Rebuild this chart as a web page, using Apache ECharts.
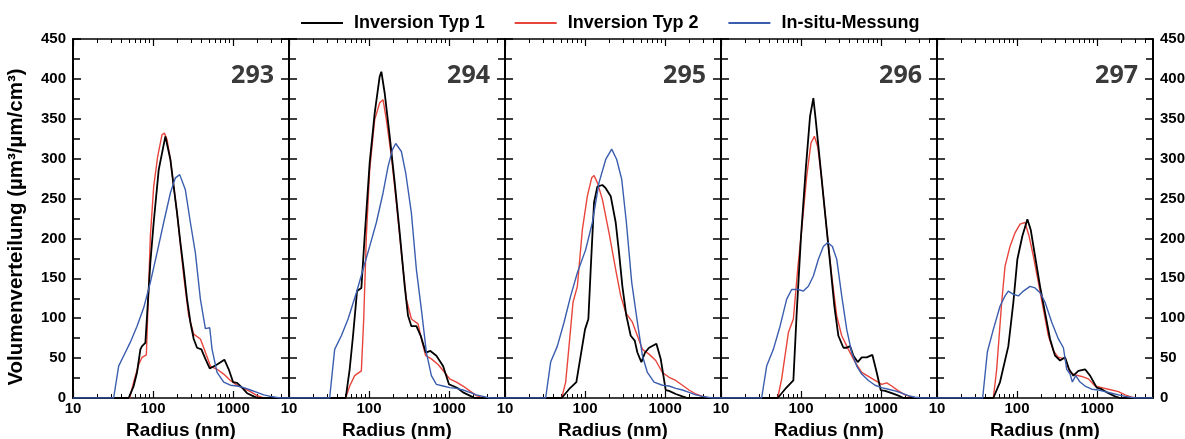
<!DOCTYPE html>
<html><head><meta charset="utf-8">
<script src="https://cdn.jsdelivr.net/npm/echarts@6/dist/echarts.min.js"></script>
<style>html,body{margin:0;padding:0;background:#fff}#c{width:1185px;height:439px}</style>
</head><body><div id="c"></div><script>
const panelNames = ['293', '294', '295', '296', '297'];
const seriesNames = ['Inversion Typ 1', 'Inversion Typ 2', 'In-situ-Messung'];
const xMajorTicks = [10, 100, 1000];
const xMinorTicks = [20, 30, 40, 50, 60, 70, 80, 90, 200, 300, 400, 500, 600, 700, 800, 900, 2000, 3000, 4000];

const typ1_293 = [[10,0],[49.6,0],[57.3,15],[63.1,32],[69.5,61],[72.9,65],[80.2,69],[92.6,170],[101.9,220],[117.7,286],[142.6,328],[164.7,299],[181.3,265],[199.5,232],[219.6,195],[241.7,161],[266.1,124],[292.9,95],[322.4,74],[354.8,63],[401.9,61],[451,49],[510.9,37],[631,42],[779.1,48],[882.6,36],[1000,20],[1122,19],[1296,13],[1496,6],[1813,2],[2034,0],[5000,0]];
const typ2_293 = [[10,0],[51.1,0],[57.3,20],[66.2,42],[72.9,51],[82.5,54],[92.6,203],[101.9,265],[114.4,303],[129.6,330],[138.6,332],[149.6,324],[164.7,299],[199.5,232],[241.7,153],[279.2,103],[322.4,80],[390.6,74],[429.9,63],[521,40],[631,36],[764.2,30],[926.2,22],[1122,16],[1359,12],[1647,8],[1995,3],[2418,0],[5000,0]];
const insitu_293 = [[10,0],[32.2,0],[37.2,40],[43,53],[52.1,70],[63.1,90],[76.4,113],[92.6,145],[112.2,182],[135.9,220],[164.7,257],[190.2,276],[215.4,280],[253.6,261],[292.9,220],[338.2,182],[390.6,124],[451,87],[510.9,88],[546.5,61],[631,32],[764.2,20],[926.2,16],[1122,15],[1359,13],[1647,10],[1995,7],[2418,4],[2929,2],[3905,0],[5000,0]];

const typ1_294 = [[10,0],[51.1,0],[57.3,36],[63.1,78],[70.8,134],[80.2,138],[88.3,203],[101.9,295],[117.7,357],[135.9,403],[142.6,409],[157,382],[181.3,328],[209.4,270],[241.7,207],[279.2,140],[307.3,103],[338.2,90],[390.6,90],[442.5,78],[510.9,57],[584.3,59],[694.6,53],[841.4,40],[1000,17],[1122,15],[1296,12],[1496,7],[1813,3],[2094,0],[5000,0]];
const typ2_294 = [[10,0],[51.1,0],[57.3,15],[66.2,28],[80.2,34],[85.8,99],[92.6,203],[101.9,286],[117.7,349],[135.9,370],[149.6,374],[164.7,349],[190.2,303],[219.6,245],[253.6,182],[292.9,124],[338.2,99],[409.7,93],[451,74],[510.9,53],[601.4,49],[728.6,42],[882.6,32],[1019,24],[1235,20],[1496,15],[1813,9],[2196,3],[2661,0],[5000,0]];
const insitu_294 = [[10,0],[32.2,0],[37.2,61],[45.1,78],[54.7,99],[69.5,132],[84.1,161],[101.9,190],[123.5,220],[149.6,257],[172.8,290],[195.7,311],[215.4,319],[253.6,309],[287.4,282],[338.2,232],[390.6,161],[451,111],[521,57],[601.4,28],[694.6,17],[841.4,15],[1019,13],[1235,12],[1496,10],[1813,7],[2196,4],[2661,2],[3224,0],[5000,0]];

const typ1_295 = [[10,0],[51.1,0],[63.1,11],[77.9,20],[88.3,53],[100,86],[110.1,99],[117.7,161],[129.6,245],[142.6,265],[164.7,267],[181.3,263],[209.4,253],[241.7,220],[266.1,182],[292.9,140],[328.6,103],[372.3,78],[417.7,72],[451,57],[505.9,45],[562.3,57],[631,63],[779.1,68],[882.6,49],[1019,10],[1122,9],[1359,5],[1647,2],[1902,0],[5000,0]];
const typ2_295 = [[10,0],[51.1,0],[57.3,20],[63.1,65],[70.8,120],[80.2,140],[92.6,211],[106.9,253],[121.2,276],[129.6,279],[142.6,270],[164.7,249],[199.5,207],[241.7,161],[279.2,128],[322.4,107],[390.6,95],[451,78],[521,61],[631,55],[764.2,47],[926.2,32],[1122,26],[1359,22],[1647,16],[1995,10],[2418,5],[2929,2],[3548,0],[5000,0]];
const insitu_295 = [[10,0],[32.2,0],[37.2,45],[45.1,65],[54.7,95],[66.2,128],[80.2,157],[101.9,186],[123.5,220],[149.6,270],[181.3,299],[215.4,312],[248.8,299],[287.4,274],[328.6,220],[383.1,145],[451,95],[521,53],[601.4,32],[728.6,20],[926.2,16],[1122,15],[1359,12],[1647,10],[1995,7],[2418,4],[2929,2],[3905,0],[5000,0]];

const typ1_296 = [[10,0],[51.1,0],[63.1,11],[80.2,22],[88.3,107],[100,203],[114.4,286],[129.6,353],[142.6,376],[152.5,349],[172.8,295],[199.5,232],[230.4,170],[261,115],[292.9,78],[338.2,63],[372.3,63],[409.7,65],[451,53],[510.9,45],[573.3,51],[662.1,51],[779.1,54],[882.6,32],[990.4,10],[1122,9],[1359,6],[1647,3],[1902,0],[5000,0]];
const typ2_296 = [[10,0],[51.1,0],[57.3,24],[69.5,82],[80.2,99],[90.8,161],[101.9,211],[117.7,278],[133.4,320],[146.8,328],[161.6,315],[181.3,274],[209.4,211],[241.7,153],[279.2,103],[322.4,78],[390.6,61],[473.2,45],[573.3,32],[694.6,27],[841.4,22],[1019,17],[1177,19],[1359,15],[1647,9],[1995,4],[2418,1],[2929,0],[5000,0]];
const insitu_296 = [[10,0],[32.2,0],[37.2,40],[45.1,61],[54.7,90],[66.2,124],[76.4,136],[92.6,136],[106.9,134],[123.5,140],[142.6,153],[164.7,174],[190.2,190],[215.4,195],[246.5,190],[279.2,174],[322.4,128],[372.3,86],[429.9,57],[496.4,40],[573.3,30],[694.6,22],[841.4,16],[1019,13],[1235,11],[1496,9],[1813,6],[2196,3],[2661,1],[3224,0],[5000,0]];

const typ1_297 = [[10,0],[50.6,0],[61.3,20],[77.9,65],[90,120],[101,174],[116.6,203],[134.7,224],[148.2,211],[167.9,178],[193.9,140],[223.9,107],[258.5,74],[298.5,53],[344.9,47],[398.1,51],[446.7,36],[505.9,28],[584.3,34],[707.9,36],[817.5,28],[990.4,13],[1144,11],[1386,6],[1679,2],[1939,0],[5000,0]];
const typ2_297 = [[10,0],[50.6,0],[55.7,36],[64.3,120],[70.8,165],[81.7,190],[94.4,207],[109,218],[125.9,220],[141.3,203],[160,178],[184.8,145],[213.4,111],[246.5,78],[284.6,59],[328.6,51],[398.1,49],[459.7,32],[530.9,29],[643.1,27],[779.1,24],[944.1,15],[1144,13],[1386,11],[1848,8],[2239,4],[2713,1],[3286,0],[5000,0]];
const insitu_297 = [[10,0],[37.2,0],[42.6,58],[50.6,86],[61.3,115],[70.8,128],[77.9,134],[90,130],[103.9,128],[120,134],[145.4,140],[167.9,138],[193.9,132],[223.9,120],[271.3,95],[328.6,74],[379.6,63],[417.7,36],[459.7,30],[491.7,20],[541.3,28],[613,20],[707.9,15],[857.7,11],[1039,10],[1259,8],[1525,6],[1848,4],[2239,2],[2985,0],[5000,0]];

const panels = [
  [typ1_293, typ2_293, insitu_293],
  [typ1_294, typ2_294, insitu_294],
  [typ1_295, typ2_295, insitu_295],
  [typ1_296, typ2_296, insitu_296],
  [typ1_297, typ2_297, insitu_297]
];

const FONT = '"Liberation Sans", Arial, sans-serif';
const colors = ['#000000', '#e8453c', '#3a5dae'];
const widths = [1.8, 1.4, 1.4];
const zs = [3, 2, 4];
const L0 = 73, W = 216, TOP = 39, H = 359;
const X_MIN = 10, X_MAX = 5000;
// helper tick axes work in decade (exponent) space of the same log axis
const lg = v => Math.log10(v);
const majorExp = xMajorTicks.map(lg);
const minorExp = xMinorTicks.map(lg);

const grid = [], xAxis = [], yAxis = [], series = [], title = [];
panels.forEach((p, k) => {
  grid.push({left: L0 + W * k, top: TOP, width: W, height: H, containLabel: false, outerBoundsMode: 'none'});
  // main data axis (log)
  xAxis.push({
    gridIndex: k, type: 'log', logBase: 10, min: X_MIN, max: X_MAX, position: 'bottom',
    splitLine: {show: false},
    axisLine: {show: true, lineStyle: {color: '#000', width: 1.5}},
    axisTick: {show: false},
    axisLabel: {show: true, margin: 3, color: '#000', fontFamily: FONT, fontWeight: 'bold', fontSize: 15,
      showMaxLabel: false, formatter: v => String(Math.round(v))},
    name: 'Radius (nm)', nameLocation: 'middle', nameGap: 21,
    nameTextStyle: {color: '#000', fontFamily: FONT, fontWeight: 'bold', fontSize: 19}
  });
  const hbase = {gridIndex: k, type: 'value', min: lg(X_MIN), max: lg(X_MAX), splitLine: {show: false},
    axisLabel: {show: false}, axisLine: {show: false}};
  ['bottom', 'top'].forEach(pos => {
    xAxis.push(Object.assign({}, hbase, {position: pos,
      axisLine: {show: pos === 'top', lineStyle: {color: '#000', width: 1.5}},
      axisTick: {show: true, inside: true, length: 7, customValues: majorExp, lineStyle: {color: '#000', width: 1.2}}}));
    xAxis.push(Object.assign({}, hbase, {position: pos,
      axisTick: {show: true, inside: true, length: 4, customValues: minorExp, lineStyle: {color: '#000', width: 1}}}));
  });
  const ybase = {gridIndex: k, type: 'value', min: 0, max: 450, interval: 50,
    axisLine: {show: true, lineStyle: {color: '#000', width: 2}},
    axisTick: {show: true, inside: true, length: 8, lineStyle: {color: '#000', width: 1.5}},
    minorTick: {show: true, splitNumber: 2, length: 7, lineStyle: {color: '#000', width: 1.5}},
    splitLine: {show: false}, minorSplitLine: {show: false}};
  const ylab = {color: '#000', fontFamily: FONT, fontWeight: 'bold', fontSize: 15, margin: 7};
  yAxis.push(Object.assign({}, ybase, {
    position: 'left',
    axisLabel: Object.assign({show: k === 0}, ylab),
    name: k === 0 ? 'Volumenverteilung (µm³/µm/cm³)' : '', nameLocation: 'middle', nameGap: 46,
    nameTextStyle: {color: '#000', fontFamily: FONT, fontWeight: 'bold', fontSize: 20.5, padding: [0, 17, 0, 0]}
  }));
  yAxis.push(Object.assign({}, ybase, {
    position: 'right',
    axisLabel: Object.assign({show: k === 4}, ylab)
  }));
  p.forEach((data, j) => {
    series.push({
      type: 'line', name: seriesNames[j], xAxisIndex: k * 5, yAxisIndex: k * 2,
      data: data, symbol: 'none', showSymbol: false, smooth: false, z: zs[j],
      lineStyle: {color: colors[j], width: widths[j]}, itemStyle: {color: colors[j]}
    });
  });
  title.push({
    text: panelNames[k], right: 1185 - (274 + W * k), top: 63, padding: 0,
    textStyle: {fontFamily: '"Open Sans", sans-serif', fontWeight: 'bold', fontSize: 25, color: '#3a3a3a'}
  });
});

const chart = echarts.init(document.getElementById('c'), null, {renderer: 'canvas'});
chart.setOption({
  animation: false,
  backgroundColor: '#fff',
  title: title,
  legend: {
    data: seriesNames, left: 301, top: 14, padding: 0, itemGap: 30, itemWidth: 42, itemHeight: 2, icon: 'rect',
    textStyle: {color: '#000', fontFamily: FONT, fontWeight: 'bold', fontSize: 18, padding: [0, 0, 0, 6]}
  },
  grid: grid, xAxis: xAxis, yAxis: yAxis, series: series
});
</script></body></html>
